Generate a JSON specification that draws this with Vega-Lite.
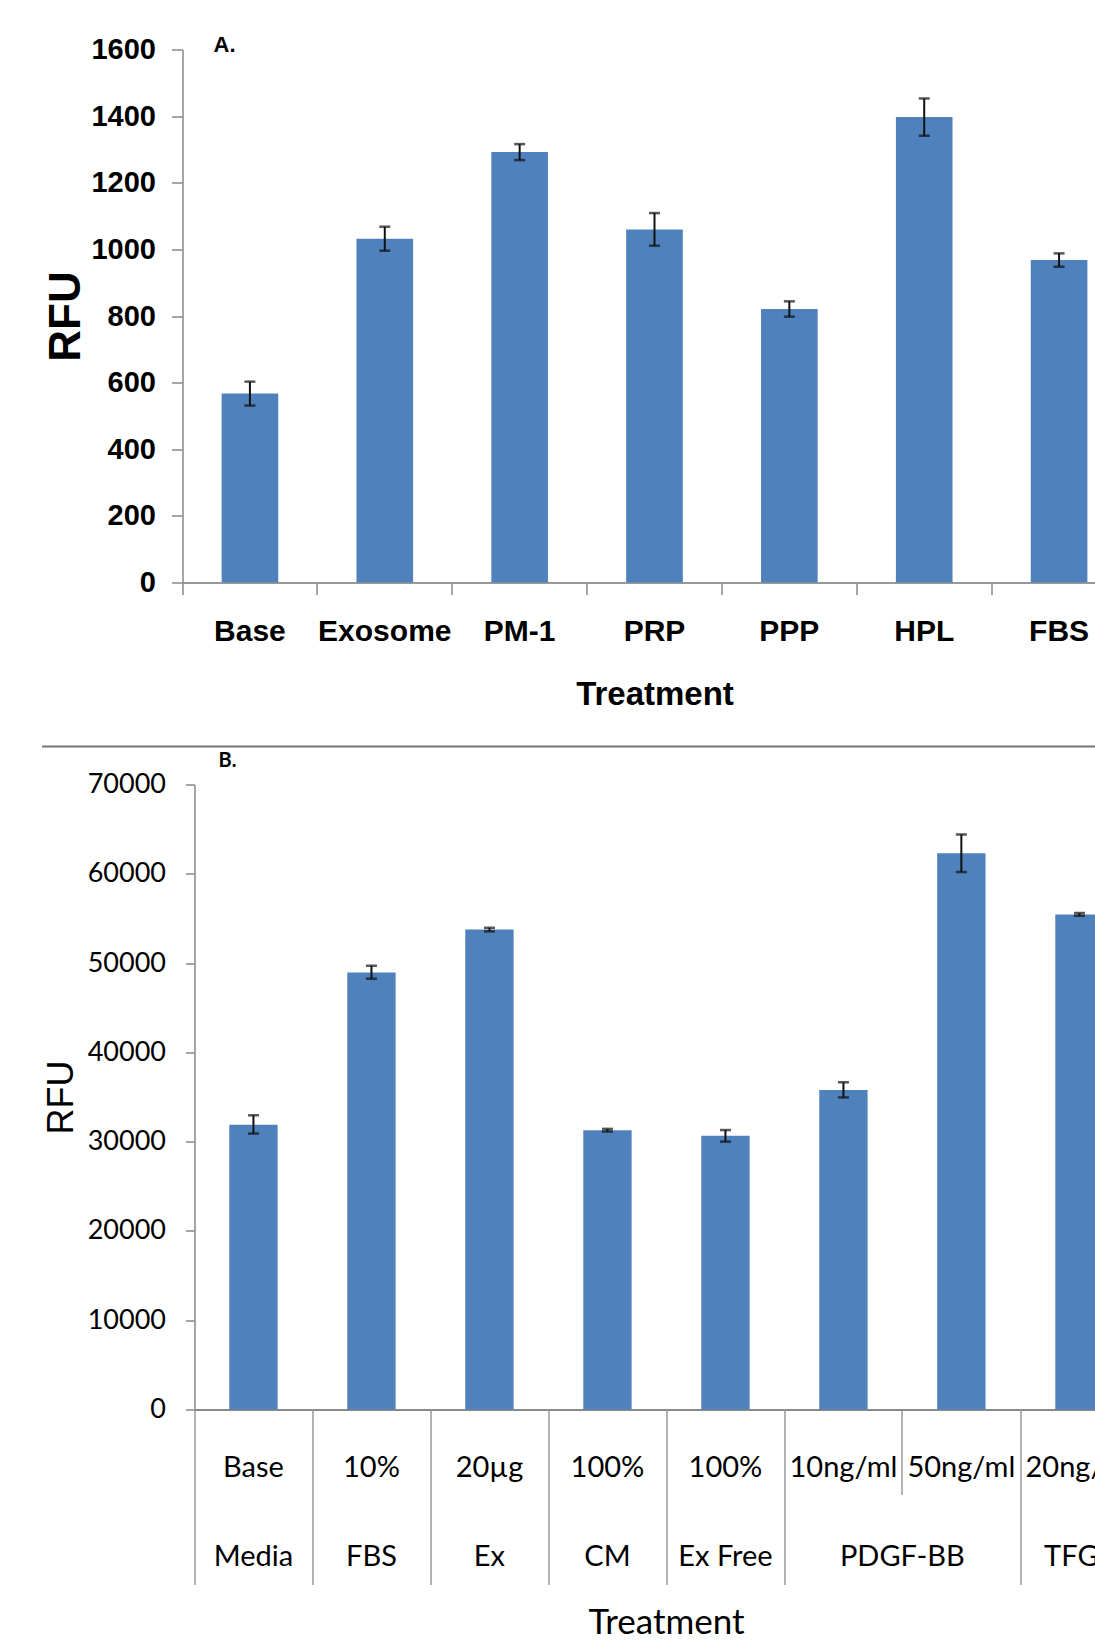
{
  "$schema": "https://vega.github.io/schema/vega-lite/v6.json",
  "background": "white",
  "padding": {"left": 42.5, "top": 33.5, "right": 0, "bottom": 0},
  "columns": 1,
  "align": "none",
  "spacing": 4,
  "config": {"view": {"stroke": null}, "axis": {"grid": false}, "font": "Liberation Sans"},
  "concat": [
    {
      "data": {"values": [
        {"cat": "Base", "value": 567, "lo": 531, "hi": 603},
        {"cat": "Exosome", "value": 1032, "lo": 996, "hi": 1068},
        {"cat": "PM-1", "value": 1292, "lo": 1268, "hi": 1316},
        {"cat": "PRP", "value": 1060, "lo": 1011, "hi": 1109},
        {"cat": "PPP", "value": 821, "lo": 798, "hi": 844},
        {"cat": "HPL", "value": 1397, "lo": 1341, "hi": 1453},
        {"cat": "FBS", "value": 968, "lo": 948, "hi": 988}
      ]},
      "title": {"text": "A.", "anchor": "start", "frame": "group", "font": "Liberation Sans", "fontSize": 22, "fontWeight": "bold", "color": "#000", "dx": 19, "offset": -21},
      "width": 932,
      "height": 533,
      "encoding": {
        "x": {"field": "cat", "type": "nominal", "sort": null,
          "scale": {"range": [-12, 932], "paddingInner": 0, "paddingOuter": 0},
          "axis": {"title": "Treatment", "labelAngle": 0, "bandPosition": 0, "tickSize": 12, "tickColor": "#888", "tickWidth": 1.5,
            "domainColor": "#999", "domainWidth": 2,
            "labelFont": "Liberation Sans", "labelFontWeight": "bold", "labelFontSize": 30, "labelColor": "#000", "labelPadding": 22,
            "titleFont": "Liberation Sans", "titleFontWeight": "bold", "titleFontSize": 33, "titleColor": "#000", "titlePadding": 32}}
      },
      "layer": [
        {"mark": {"type": "bar", "color": "#4F81BD", "width": {"band": 0.42}},
         "encoding": {"y": {"field": "value", "type": "quantitative", "title": "RFU", "scale": {"domain": [0, 1600]},
           "axis": {"values": [0, 200, 400, 600, 800, 1000, 1200, 1400, 1600], "format": "d", "offset": 12, "tickSize": 11, "tickColor": "#888", "tickWidth": 1.5,
             "domainColor": "#888", "domainWidth": 1.5,
             "labelFont": "Liberation Sans", "labelFontWeight": "bold", "labelFontSize": 29, "labelColor": "#000", "labelPadding": 16,
             "titleFont": "Liberation Sans", "titleFontWeight": "bold", "titleFontSize": 44, "titleColor": "#000", "titlePadding": 2.5}}}},
        {"mark": {"type": "rule", "color": "#111", "strokeWidth": 2},
         "encoding": {"y": {"field": "lo", "type": "quantitative", "title": "RFU", "scale": {"domain": [0, 1600]}}, "y2": {"field": "hi"}}},
        {"mark": {"type": "tick", "color": "#111", "size": 11, "thickness": 2.5},
         "encoding": {"y": {"field": "lo", "type": "quantitative", "title": "RFU", "scale": {"domain": [0, 1600]}}}},
        {"mark": {"type": "tick", "color": "#111", "size": 11, "thickness": 2.5},
         "encoding": {"y": {"field": "hi", "type": "quantitative", "title": "RFU", "scale": {"domain": [0, 1600]}}}}
      ]
    },
    {
      "data": {"values": []},
      "width": 900,
      "height": 30.6,
      "mark": {"type": "rule"},
      "encoding": {"x": {"field": "x", "type": "quantitative", "scale": {"domain": [0, 1], "range": [-153, 920]},
        "axis": {"domain": true, "domainColor": "#777", "domainWidth": 2, "ticks": false, "labels": false, "title": null, "grid": false}}}
    },
    {
      "data": {"values": [
        {"group": "Media", "conc": "Base", "value": 31900, "lo": 30900, "hi": 32950},
        {"group": "FBS", "conc": "10%", "value": 48950, "lo": 48250, "hi": 49700},
        {"group": "Ex", "conc": "20µg", "value": 53750, "lo": 53550, "hi": 53950},
        {"group": "CM", "conc": "100%", "value": 31280, "lo": 31130, "hi": 31430},
        {"group": "Ex Free", "conc": "100%", "value": 30650, "lo": 30000, "hi": 31300},
        {"group": "PDGF-BB", "conc": "10ng/ml", "value": 35780, "lo": 34950, "hi": 36650},
        {"group": "PDGF-BB", "conc": "50ng/ml", "value": 62300, "lo": 60200, "hi": 64400},
        {"group": "TFGβ", "conc": "20ng/ml", "value": 55450, "lo": 55300, "hi": 55600}
      ]},
      "title": {"text": "B.", "anchor": "start", "frame": "group", "font": "Lato", "fontSize": 20, "fontWeight": "bold", "color": "#000", "dx": 24, "offset": -0.5},
      "bounds": "flush",
      "facet": {"column": {"field": "group", "type": "nominal", "title": "Treatment",
        "sort": ["Media", "FBS", "Ex", "CM", "Ex Free", "PDGF-BB", "TFGβ"],
        "header": {"labelOrient": "bottom", "labelFont": "Lato", "labelFontSize": 29, "labelColor": "#000", "labelPadding": 133.7,
          "titleOrient": "bottom", "titleFont": "Lato", "titleFontSize": 35, "titleFontWeight": "normal", "titleColor": "#000", "titlePadding": 23.5}}},
      "spacing": 0,
      "resolve": {"scale": {"x": "independent"}},
      "spec": {
        "width": {"step": 117.9},
        "height": 625,
        "encoding": {
          "x": {"field": "conc", "type": "nominal", "sort": null,
            "scale": {"paddingInner": 0, "paddingOuter": 0},
            "axis": {"title": null, "labelAngle": 0, "bandPosition": 0,
              "tickSize": {"condition": {"test": "datum.value == '50ng/ml'", "value": 85}, "value": 175},
              "labelPadding": {"condition": {"test": "datum.value == '50ng/ml'", "value": -41}, "value": -131},
              "tickColor": "#999", "tickWidth": 1.5, "domainColor": "#888", "domainWidth": 2,
              "labelFont": "Lato", "labelFontSize": 29, "labelColor": "#000"}}
        },
        "layer": [
          {"mark": {"type": "bar", "color": "#4F81BD", "width": {"band": 0.41}},
           "encoding": {"y": {"field": "value", "type": "quantitative", "title": "RFU", "scale": {"domain": [0, 70000]},
             "axis": {"values": [0, 10000, 20000, 30000, 40000, 50000, 60000, 70000], "format": "d", "tickSize": 9, "tickColor": "#888", "tickWidth": 1.5,
               "domainColor": "#888", "domainWidth": 1.5,
               "labelFont": "Lato", "labelFontSize": 27, "labelColor": "#000", "labelPadding": 20,
               "titleFont": "Liberation Sans", "titleFontWeight": "normal", "titleFontSize": 36, "titleColor": "#000", "titlePadding": 7}}}},
          {"mark": {"type": "rule", "color": "#111", "strokeWidth": 2},
           "encoding": {"y": {"field": "lo", "type": "quantitative", "title": "RFU", "scale": {"domain": [0, 70000]}}, "y2": {"field": "hi"}}},
          {"mark": {"type": "tick", "color": "#111", "size": 11, "thickness": 2.5},
           "encoding": {"y": {"field": "lo", "type": "quantitative", "title": "RFU", "scale": {"domain": [0, 70000]}}}},
          {"mark": {"type": "tick", "color": "#111", "size": 11, "thickness": 2.5},
           "encoding": {"y": {"field": "hi", "type": "quantitative", "title": "RFU", "scale": {"domain": [0, 70000]}}}}
        ]
      }
    }
  ]
}
